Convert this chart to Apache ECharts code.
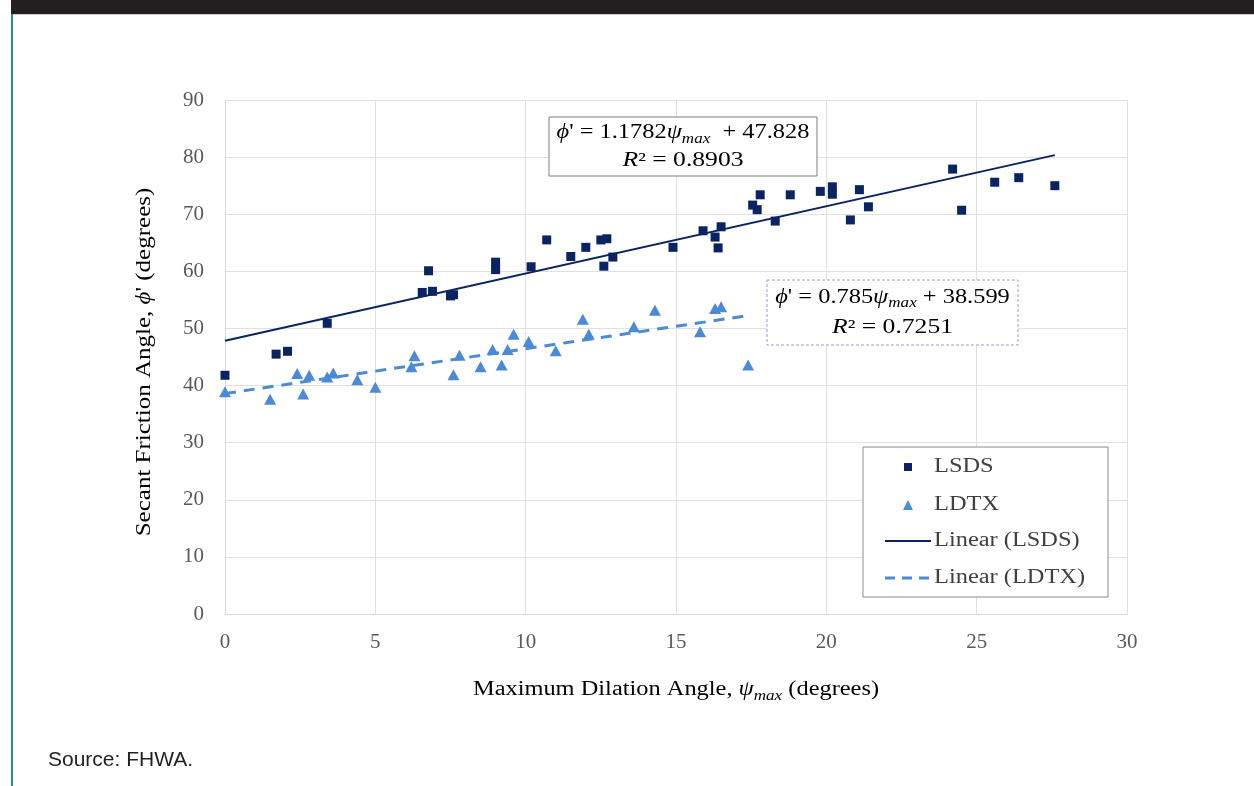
<!DOCTYPE html>
<html>
<head>
<meta charset="utf-8">
<script src="https://cdn.jsdelivr.net/npm/echarts@6/dist/echarts.min.js"></script>
<style>
html,body{margin:0;padding:0;background:#fff;}
#chart{width:1254px;height:786px;}
</style>
</head>
<body>
<div id="chart"></div>
<script>
// ---- data ----
const lsdsPoints = [
  [0, 41.8], [1.7, 45.5], [2.08, 46.0], [3.4, 50.9], [6.56, 56.3], [6.77, 60.1],
  [6.9, 56.5], [7.5, 55.7], [7.6, 55.9], [9.0, 61.6], [9.0, 60.3], [10.18, 60.8],
  [10.7, 65.5], [11.5, 62.6], [12.0, 64.2], [12.5, 65.5], [12.7, 65.7], [12.6, 60.9],
  [12.9, 62.5], [14.9, 64.2], [15.9, 67.1], [16.3, 66.0], [16.4, 64.1], [16.5, 67.8],
  [17.55, 71.6], [17.7, 70.8], [17.8, 73.4], [18.3, 68.8], [18.8, 73.4], [19.8, 74.0],
  [20.2, 74.8], [20.2, 73.5], [20.8, 69.0], [21.1, 74.3], [21.4, 71.3], [24.2, 77.9],
  [24.5, 70.7], [25.6, 75.6], [26.4, 76.4], [27.6, 75.0]
];
const ldtxPoints = [
  [0, 38.9], [1.5, 37.6], [2.4, 42.1], [2.6, 38.5], [2.8, 41.8], [3.4, 41.5],
  [3.6, 42.2], [4.4, 41.0], [5.0, 39.7], [6.2, 43.3], [6.3, 45.2], [7.6, 41.9],
  [7.8, 45.3], [8.5, 43.3], [8.9, 46.3], [9.2, 43.6], [9.4, 46.3], [9.6, 49.0],
  [10.1, 47.7], [11.0, 46.1], [11.9, 51.6], [12.1, 49.0], [13.6, 50.3], [14.3, 53.2],
  [15.8, 49.4], [16.3, 53.5], [16.5, 53.8], [17.4, 43.6]
];
const lsdsTrend = [[0, 47.828], [27.6, 80.346]];
const ldtxTrend = [[0, 38.599], [17.4, 52.258]];
const xTicks = [0, 5, 10, 15, 20, 25, 30];
const yTicks = [0, 10, 20, 30, 40, 50, 60, 70, 80, 90];
const seriesNames = ['LSDS', 'LDTX', 'Linear (LSDS)', 'Linear (LDTX)'];
const eqLSDS = ['1.1782', '47.828', '0.8903'];
const eqLDTX = ['0.785', '38.599', '0.7251'];
const xTitle = ['Maximum Dilation Angle, ', 'ψ', 'max', ' (degrees)'];
const yTitle = ['Secant Friction Angle, ', 'ϕ', '\' (degrees)'];
const sourceText = 'Source: FHWA.';

const SERIF = '"Liberation Serif", "Times New Roman", serif';
const TXT = '#595959';
const DARK = '#404040';
const NAVY = '#0a2463';
const BLUE = '#4a8ad6';
const SX = 1.22;

const chart = echarts.init(document.getElementById('chart'), null, {renderer: 'canvas'});

function rich(color) {
  return {
    n: {fontFamily: SERIF, fontSize: 20, color: color, lineHeight: 24},
    i: {fontFamily: SERIF, fontSize: 20, color: color, fontStyle: 'italic', lineHeight: 24},
    s: {fontFamily: SERIF, fontSize: 14, color: color, fontStyle: 'italic', lineHeight: 14,
        verticalAlign: 'top', padding: [11, 0, 0, 0]}
  };
}

function eqBox(x, y, w, h, eq, dashed, stroke) {
  return [
    {type: 'rect', z: 100, shape: {x: x, y: y, width: w, height: h},
     style: {fill: '#fff', stroke: stroke, lineWidth: 1, lineDash: dashed ? [3, 2] : null}},
    {type: 'text', z: 101, x: x + w / 2, y: y + h * 0.27, scaleX: SX,
     style: {text: '{i|ϕ}{n|\' = ' + eq[0] + '}{i|ψ}{s|max}{n| ' + (dashed ? '' : ' ') + '+ ' + eq[1] + '}',
             rich: rich(DARK), align: 'center', verticalAlign: 'middle'}},
    {type: 'text', z: 101, x: x + w / 2, y: y + h * 0.74, scaleX: SX + 0.06,
     style: {text: '{i|R}{n|² = ' + eq[2] + '}', rich: rich(DARK), align: 'center', verticalAlign: 'middle'}}
  ];
}

function legendBox() {
  const L = 863, T = 447, W = 245, H = 150, cx = 908, tx = 934;
  const rows = [467, 505, 541, 578];
  return [
    {type: 'rect', z: 100, shape: {x: L, y: T, width: W, height: H},
     style: {fill: '#fff', stroke: '#8c8c8c', lineWidth: 1}},
    {type: 'rect', z: 101, shape: {x: cx - 4, y: rows[0] - 4, width: 8, height: 8}, style: {fill: NAVY}},
    {type: 'polygon', z: 101, shape: {points: [[cx - 5, rows[1] + 5], [cx + 5, rows[1] + 5], [cx, rows[1] - 5]]},
     style: {fill: BLUE}},
    {type: 'line', z: 101, shape: {x1: 885, y1: rows[2], x2: 931, y2: rows[2]},
     style: {stroke: NAVY, lineWidth: 2}},
    {type: 'line', z: 101, shape: {x1: 885, y1: rows[3], x2: 931, y2: rows[3]},
     style: {stroke: BLUE, lineWidth: 3, lineDash: [10, 7]}},
  ].concat(seriesNames.map((nm, k) => ({
    type: 'text', z: 101, x: tx, y: rows[k], scaleX: SX,
    style: {text: nm, fontFamily: SERIF, fontSize: 20, fill: DARK, align: 'left', verticalAlign: 'middle'}
  })));
}

const option = {
  backgroundColor: '#ffffff',
  animation: false,
  grid: {left: 225, right: 127, top: 100, bottom: 172, containLabel: false},
  xAxis: {
    type: 'value', min: xTicks[0], max: xTicks[xTicks.length - 1], interval: 5,
    axisLine: {show: true, lineStyle: {color: '#d9d9d9', width: 1}},
    axisTick: {show: false},
    axisLabel: {fontFamily: SERIF, fontSize: 21, color: TXT, margin: 18},
    splitLine: {show: true, lineStyle: {color: '#e0e0e0', width: 1}}
  },
  yAxis: {
    type: 'value', min: yTicks[0], max: yTicks[yTicks.length - 1], interval: 10,
    axisLine: {show: true, lineStyle: {color: '#d9d9d9', width: 1}},
    axisTick: {show: false},
    axisLabel: {fontFamily: SERIF, fontSize: 21, color: TXT, margin: 21},
    splitLine: {show: true, lineStyle: {color: '#e0e0e0', width: 1}}
  },
  series: [
    {name: seriesNames[0], type: 'scatter', data: lsdsPoints, symbol: 'rect', symbolSize: 9,
     itemStyle: {color: NAVY, opacity: 1}, z: 3},
    {name: seriesNames[1], type: 'scatter', data: ldtxPoints, symbol: 'triangle', symbolSize: [12, 11],
     itemStyle: {color: BLUE, opacity: 1}, z: 3},
    {name: seriesNames[2], type: 'line', data: lsdsTrend, symbol: 'none', showSymbol: false,
     lineStyle: {color: NAVY, width: 2}, itemStyle: {color: NAVY}, z: 4},
    {name: seriesNames[3], type: 'line', data: ldtxTrend, symbol: 'none', showSymbol: false,
     lineStyle: {color: BLUE, width: 3, type: [11, 8]}, itemStyle: {color: BLUE}, z: 4}
  ],
  graphic: [
    {type: 'rect', z: 50, shape: {x: 11, y: 0, width: 1243, height: 14}, style: {fill: '#231f20'}},
    {type: 'rect', z: 50, shape: {x: 11, y: 14, width: 1243, height: 1}, style: {fill: '#c9c9c9'}},
    {type: 'rect', z: 50, shape: {x: 11, y: 14, width: 2, height: 772}, style: {fill: '#21957f'}},
    {type: 'text', z: 50, x: 676, y: 690, scaleX: SX,
     style: {text: '{n|' + xTitle[0] + '}{i|' + xTitle[1] + '}{s|' + xTitle[2] + '}{n|' + xTitle[3] + '}',
             rich: rich(TXT), align: 'center', verticalAlign: 'middle'}},
    {type: 'text', z: 50, x: 145, y: 362, rotation: Math.PI / 2, scaleX: 1.25,
     style: {text: '{n|' + yTitle[0] + '}{i|' + yTitle[1] + '}{n|' + yTitle[2] + '}',
             rich: rich(TXT), align: 'center', verticalAlign: 'middle'}},
    {type: 'text', z: 50, x: 48, y: 760,
     style: {text: sourceText, fontFamily: '"Liberation Sans", Arial, sans-serif', fontSize: 21,
             fill: '#231f20', align: 'left', verticalAlign: 'middle'}}
  ].concat(eqBox(549, 117, 268, 59, eqLSDS, false, '#7f7f7f'))
   .concat(eqBox(767, 280, 251, 65, eqLDTX, true, '#9a9ad6'))
   .concat(legendBox())
};
chart.setOption(option);
</script>
</body>
</html>
